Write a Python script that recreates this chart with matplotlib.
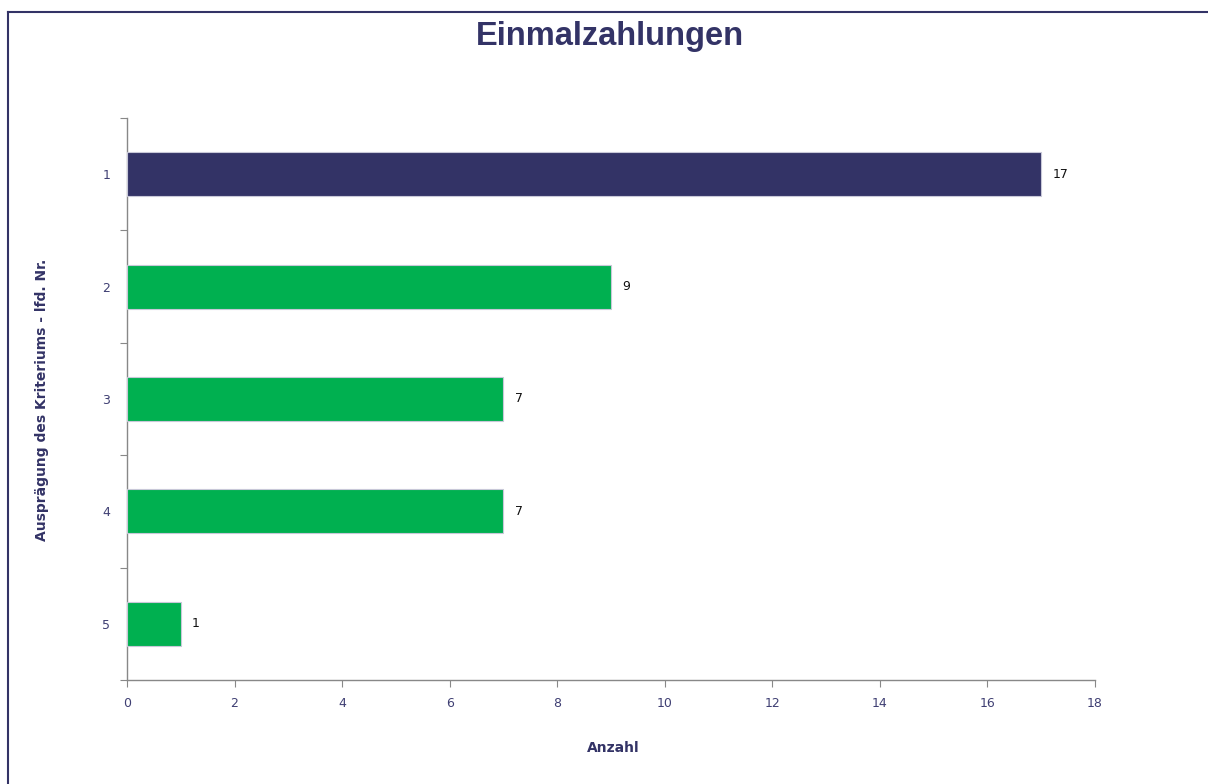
import os

import matplotlib.pyplot as plt
import numpy as np
from matplotlib import font_manager
from matplotlib.lines import Line2D

# Data
categories = ["1", "2", "3", "4", "5"]
counts = [17, 9, 7, 7, 1]
bar_colors = ["#333366", "#00B050", "#00B050", "#00B050", "#00B050"]

NAVY = "#333366"
TICK_COLOR = "#3f3f73"
TITLE_FONT = "/usr/share/fonts/truetype/liberation/LiberationSans-Bold.ttf"


def title_font():
    if os.path.exists(TITLE_FONT):
        return font_manager.FontProperties(fname=TITLE_FONT, size=23.5)
    return font_manager.FontProperties(family="DejaVu Sans", weight="bold", size=21)


def main() -> None:
    fig = plt.figure(figsize=(12.08, 7.84), dpi=100)
    ax = fig.add_axes([127 / 1208, 1 - 680 / 784, (1095 - 127) / 1208, (680 - 118) / 784])

    pos = np.arange(1, len(categories) + 1)
    ax.barh(pos, counts, height=0.39, color=bar_colors,
            edgecolor="#c8c8d8", linewidth=0.8, zorder=3)

    for y, v in zip(pos, counts):
        ax.annotate(str(v), xy=(v, y), xytext=(8, 0), textcoords="offset points",
                    va="center", ha="left", fontsize=9, color="#111111")

    ax.set_xlim(0, 18)
    ax.set_ylim(len(categories) + 0.5, 0.5)
    ax.set_xticks(np.arange(0, 19, 2))

    # ticks sit between categories, labels at the centres
    ax.set_yticks(np.arange(0.5, len(categories) + 1, 1.0))
    ax.set_yticklabels([])
    ax.set_yticks(pos, minor=True)
    ax.set_yticklabels(categories, minor=True)
    ax.tick_params(axis="y", which="minor", length=0, pad=12, labelsize=9, labelcolor=TICK_COLOR)
    ax.tick_params(axis="y", which="major", length=5, color="#888888", direction="out")
    ax.tick_params(axis="x", length=5, color="#888888", pad=7, labelsize=9, labelcolor=TICK_COLOR)

    for side in ("top", "right"):
        ax.spines[side].set_visible(False)
    for side in ("left", "bottom"):
        ax.spines[side].set_color("#888888")
        ax.spines[side].set_linewidth(1.0)

    fig.text(610 / 1208, 1 - 37 / 784, "Einmalzahlungen", ha="center", va="center",
             color=NAVY, fontproperties=title_font())
    fig.text(613 / 1208, 1 - 748 / 784, "Anzahl", ha="center", va="center",
             fontsize=10, fontweight="bold", color=NAVY)
    fig.text(42 / 1208, 1 - 400 / 784, "Ausprägung des Kriteriums - lfd. Nr.", ha="center",
             va="center", rotation=90, fontsize=10, fontweight="bold", color=NAVY)

    # outer frame (top and left edges visible in the reference)
    fig.add_artist(Line2D([8 / 1208, 1.0], [1 - 12 / 784] * 2, color=NAVY, lw=1.5,
                          transform=fig.transFigure))
    fig.add_artist(Line2D([8 / 1208] * 2, [0.0, 1 - 12 / 784], color=NAVY, lw=1.5,
                          transform=fig.transFigure))

    fig.savefig("out.png", dpi=100)


if __name__ == "__main__":
    main()
